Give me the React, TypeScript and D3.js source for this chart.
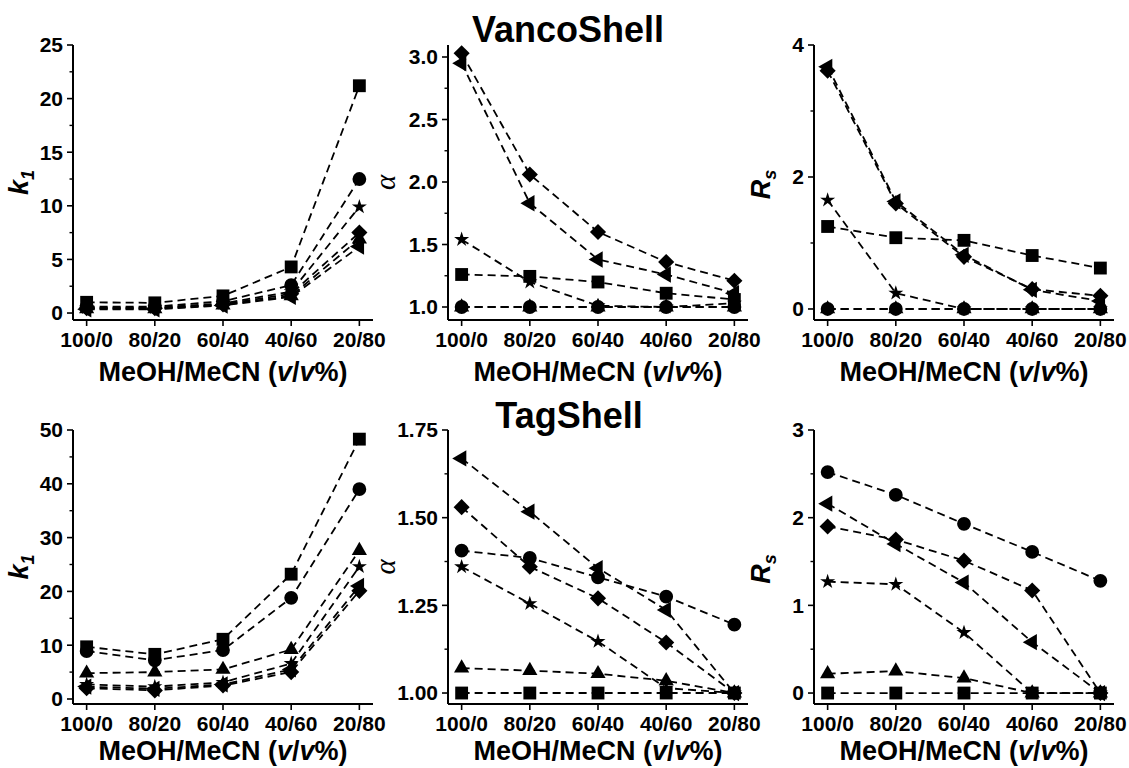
import React from "react";
import * as d3 from "d3";

const categories = ["100/0", "80/20", "60/40", "40/60", "20/80"];
// series order: square, circle, triangle, left triangle, diamond, star
const shapes = ["square", "circle", "triangle", "leftTriangle", "diamond", "star"];

const vancoK1 = [
  [1.0, 0.95, 1.6, 4.3, 21.2],
  [0.6, 0.6, 1.1, 2.6, 12.5],
  [0.4, 0.4, 0.75, 1.6, 6.9],
  [0.35, 0.35, 0.7, 1.5, 6.2],
  [0.45, 0.45, 0.8, 1.8, 7.5],
  [0.5, 0.5, 0.9, 2.0, 9.9],
];
const vancoAlpha = [
  [1.26, 1.245, 1.2, 1.11, 1.06],
  [1.0, 1.0, 1.0, 1.0, 1.0],
  [1.0, 1.0, 1.0, 1.0, 1.0],
  [2.95, 1.83, 1.38, 1.26, 1.11],
  [3.03, 2.06, 1.6, 1.36, 1.21],
  [1.54, 1.2, 1.01, 1.0, 1.03],
];
const vancoRs = [
  [1.25, 1.08, 1.04, 0.81, 0.62],
  [0, 0, 0, 0, 0],
  [0, 0, 0, 0, 0],
  [3.67, 1.63, 0.82, 0.29, 0.12],
  [3.61, 1.6, 0.79, 0.3, 0.2],
  [1.65, 0.24, 0, 0, 0],
];
const tagK1 = [
  [9.7, 8.3, 11.1, 23.2, 48.3],
  [8.9, 7.2, 9.1, 18.8, 39.0],
  [4.8, 5.0, 5.5, 9.2, 27.6],
  [2.3, 1.9, 2.7, 5.5, 21.0],
  [2.0, 1.6, 2.5, 5.0, 20.1],
  [2.7, 2.3, 3.1, 6.6, 24.6],
];
const tagAlpha = [
  [1, 1, 1, 1, 1],
  [1.406, 1.385, 1.33, 1.275, 1.195],
  [1.071, 1.064, 1.055, 1.035, 1.0],
  [1.669, 1.517, 1.356, 1.237, 1.0],
  [1.53, 1.36, 1.27, 1.144, 1.0],
  [1.36, 1.255, 1.147, 1.014, 1.0],
];
const tagRs = [
  [0, 0, 0, 0, 0],
  [2.52, 2.26, 1.93, 1.61, 1.28],
  [0.22, 0.25, 0.17, 0, 0],
  [2.16, 1.7, 1.26, 0.58, 0],
  [1.9, 1.75, 1.51, 1.17, 0],
  [1.27, 1.24, 0.69, 0, 0],
];

const vancoK1Ticks = [0, 5, 10, 15, 20, 25];
const vancoAlphaTicks = [1.0, 1.5, 2.0, 2.5, 3.0];
const vancoRsTicks = [0, 2, 4];
const tagK1Ticks = [0, 10, 20, 30, 40, 50];
const tagAlphaTicks = [1.0, 1.25, 1.5, 1.75];
const tagRsTicks = [0, 1, 2, 3];

const titles = ["VancoShell", "TagShell"];
const xTitle = "MeOH/MeCN (";

const FONT = "'Liberation Sans', Arial, sans-serif";
const colLeft = [73, 448, 814];
const rowBox = [
  [45, 320],
  [430, 704],
];
const xTitleBase = [381, 760];

type PanelDef = {
  values: number[][];
  domain: [number, number];
  ticks: number[];
  fmt: (v: number) => string;
  label: "k" | "a" | "r";
  col: number;
  row: number;
};

const panels: PanelDef[] = [
  { values: vancoK1, domain: [-0.65, 25], ticks: vancoK1Ticks, fmt: d3.format("d"), label: "k", col: 0, row: 0 },
  { values: vancoAlpha, domain: [0.896, 3.096], ticks: vancoAlphaTicks, fmt: d3.format(".1f"), label: "a", col: 1, row: 0 },
  { values: vancoRs, domain: [-0.167, 4], ticks: vancoRsTicks, fmt: d3.format("d"), label: "r", col: 2, row: 0 },
  { values: tagK1, domain: [-0.93, 50], ticks: tagK1Ticks, fmt: d3.format("d"), label: "k", col: 0, row: 1 },
  { values: tagAlpha, domain: [0.9687, 1.75], ticks: tagAlphaTicks, fmt: d3.format(".2f"), label: "a", col: 1, row: 1 },
  { values: tagRs, domain: [-0.125, 3], ticks: tagRsTicks, fmt: d3.format("d"), label: "r", col: 2, row: 1 },
];

function marker(shape: string) {
  switch (shape) {
    case "square":
      return { d: d3.symbol(d3.symbolSquare, 165)()!, rot: 0 };
    case "circle":
      return { d: d3.symbol(d3.symbolCircle, 150)()!, rot: 0 };
    case "triangle":
      return { d: d3.symbol(d3.symbolTriangle, 100)()!, rot: 0 };
    case "leftTriangle":
      return { d: d3.symbol(d3.symbolTriangle, 115)()!, rot: -90 };
    case "diamond":
      return { d: d3.symbol(d3.symbolSquare, 130)()!, rot: 45 };
    default:
      return { d: d3.symbol(d3.symbolStar, 70)()!, rot: 0 };
  }
}

function Panel({ p }: { p: PanelDef }) {
  const left = colLeft[p.col];
  const [top, bottom] = rowBox[p.row];
  const x = d3.scaleLinear().domain([-0.2, 4.2]).range([left, left + 300]);
  const y = d3.scaleLinear().domain(p.domain).range([bottom, top]);
  const step = p.ticks[1] - p.ticks[0];
  const minor = p.ticks.slice(0, -1).map((t) => t + step / 2);
  const line = d3
    .line<number>()
    .x((_, i) => x(i))
    .y((d) => y(d));
  const cy = (top + bottom) / 2;
  const cx = (x(0) + x(4)) / 2;

  let yLabel: React.ReactNode;
  if (p.label === "k") {
    yLabel = (
      <text transform={`translate(${left - 45},${cy}) rotate(-90)`} textAnchor="middle" fontFamily={FONT} fontWeight="bold" fontStyle="italic" fontSize={27}>
        k<tspan fontSize={18} dy={6}>1</tspan>
      </text>
    );
  } else if (p.label === "r") {
    yLabel = (
      <text transform={`translate(${left - 44},${cy + 2}) rotate(-90)`} textAnchor="middle" fontFamily={FONT} fontWeight="bold" fontStyle="italic" fontSize={27}>
        R<tspan fontSize={18} dy={6}>s</tspan>
      </text>
    );
  } else {
    yLabel = (
      <text transform={`translate(${left - 53},${cy}) rotate(-90)`} textAnchor="middle" fontFamily="'Liberation Serif', 'Times New Roman', serif" fontStyle="italic" fontSize={29}>
        α
      </text>
    );
  }

  return (
    <g>
      {p.values.map((vals, si) => (
        <path key={"l" + si} d={line(vals)!} fill="none" stroke="#000" strokeWidth={1.8} strokeDasharray="8,5" />
      ))}
      {p.values.map((vals, si) => {
        const m = marker(shapes[si]);
        return vals.map((v, i) => (
          <path key={"m" + si + "-" + i} d={m.d} fill="#000" transform={`translate(${x(i)},${y(v)}) rotate(${m.rot})`} />
        ));
      })}
      <line x1={left} x2={left} y1={bottom} y2={top} stroke="#000" strokeWidth={2} />
      <line x1={left} x2={left + 300} y1={bottom} y2={bottom} stroke="#000" strokeWidth={2} />
      {p.ticks.map((t) => (
        <g key={"t" + t}>
          <line x1={left - 6} x2={left} y1={y(t)} y2={y(t)} stroke="#000" strokeWidth={1.6} />
          <text x={left - 10} y={y(t)} dy="0.35em" textAnchor="end" fontFamily={FONT} fontWeight="bold" fontSize={21}>
            {p.fmt(t)}
          </text>
        </g>
      ))}
      {minor.map((t) => (
        <line key={"mt" + t} x1={left - 3.5} x2={left} y1={y(t)} y2={y(t)} stroke="#000" strokeWidth={1.4} />
      ))}
      {categories.map((c, i) => (
        <g key={c}>
          <line x1={x(i)} x2={x(i)} y1={bottom} y2={bottom + 6} stroke="#000" strokeWidth={1.6} />
          <text x={x(i)} y={bottom + 27} textAnchor="middle" fontFamily={FONT} fontWeight="bold" fontSize={21}>
            {c}
          </text>
        </g>
      ))}
      <text x={cx} y={xTitleBase[p.row]} textAnchor="middle" fontFamily={FONT} fontWeight="bold" fontSize={27}>
        {xTitle}
        <tspan fontStyle="italic">v</tspan>/<tspan fontStyle="italic">v</tspan>%)
      </text>
      {yLabel}
    </g>
  );
}

export default function App() {
  return (
    <svg width={1129} height={768} style={{ position: "absolute", left: 0, top: 0, background: "#fff" }}>
      <rect width={1129} height={768} fill="#fff" />
      <text x={568} y={42} textAnchor="middle" fontFamily={FONT} fontWeight="bold" fontSize={36}>
        {titles[0]}
      </text>
      <text x={569} y={428} textAnchor="middle" fontFamily={FONT} fontWeight="bold" fontSize={36}>
        {titles[1]}
      </text>
      {panels.map((p, i) => (
        <Panel key={i} p={p} />
      ))}
    </svg>
  );
}
